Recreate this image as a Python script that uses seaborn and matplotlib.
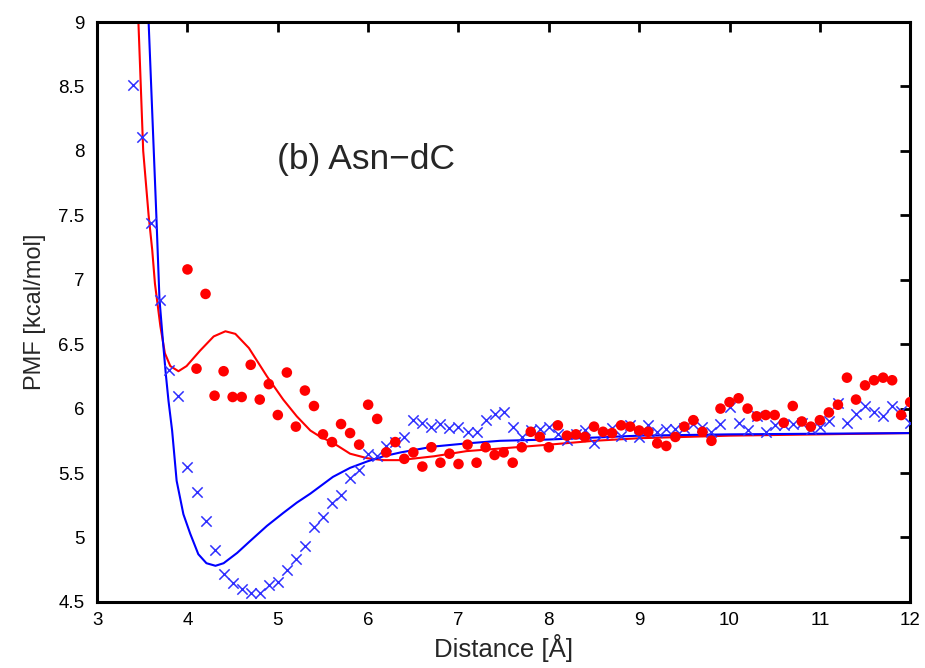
import numpy as np
import pandas as pd
import matplotlib
matplotlib.use("Agg")
import matplotlib.pyplot as plt
import seaborn as sns

# ----------------------------
# DATA
# ----------------------------

# blue crosses
cross_x = [3.4, 3.5, 3.6, 3.7, 3.8, 3.9, 4.0, 4.1, 4.2, 4.3, 4.4, 4.5, 4.6, 4.7, 4.8,
           4.9, 5.0, 5.1, 5.2, 5.3, 5.4, 5.5, 5.6, 5.7, 5.8, 5.9, 6.0, 6.1, 6.2, 6.3,
           6.4, 6.5, 6.6, 6.7, 6.8, 6.9, 7.0, 7.1, 7.2, 7.3, 7.4, 7.5, 7.6, 7.7, 7.8,
           7.9, 8.0, 8.1, 8.2, 8.3, 8.4, 8.5, 8.6, 8.7, 8.8, 8.9, 9.0, 9.1, 9.2, 9.3,
           9.4, 9.5, 9.6, 9.7, 9.8, 9.9, 10.0, 10.1, 10.2, 10.3, 10.4, 10.5, 10.6, 10.7,
           10.8, 10.9, 11.0, 11.1, 11.2, 11.3, 11.4, 11.5, 11.6, 11.7, 11.8, 11.9, 12.0]
cross_y = [8.51, 8.105, 7.44, 6.84, 6.30, 6.10, 5.55, 5.35, 5.13, 4.90, 4.72, 4.65, 4.60, 4.57, 4.57,
           4.63, 4.655, 4.75, 4.83, 4.93, 5.08, 5.16, 5.27, 5.33, 5.46, 5.52, 5.65, 5.63, 5.71, 5.74,
           5.78, 5.91, 5.89, 5.855, 5.88, 5.85, 5.86, 5.82, 5.82, 5.91, 5.96, 5.97, 5.86, 5.78, 5.83,
           5.84, 5.86, 5.80, 5.76, 5.80, 5.83, 5.73, 5.80, 5.85, 5.79, 5.87, 5.78, 5.87, 5.82, 5.84,
           5.84, 5.85, 5.88, 5.86, 5.82, 5.88, 6.01, 5.89, 5.83, 5.94, 5.82, 5.87, 5.87, 5.88,
           5.89, 5.84, 5.86, 5.90, 6.04, 5.89, 5.96, 6.02, 5.97, 5.94, 6.02, 5.98, 5.89]

# red dots
dot_x = [4.0, 4.1, 4.2, 4.3, 4.4, 4.5, 4.6, 4.7, 4.8, 4.9, 5.0, 5.1, 5.2, 5.3, 5.4,
         5.5, 5.6, 5.7, 5.8, 5.9, 6.0, 6.1, 6.2, 6.3, 6.4, 6.5, 6.6, 6.7, 6.8, 6.9,
         7.0, 7.1, 7.2, 7.3, 7.4, 7.5, 7.6, 7.7, 7.8, 7.9, 8.0, 8.1, 8.2, 8.3, 8.4,
         8.5, 8.6, 8.7, 8.8, 8.9, 9.0, 9.1, 9.2, 9.3, 9.4, 9.5, 9.6, 9.7, 9.8, 9.9,
         10.0, 10.1, 10.2, 10.3, 10.4, 10.5, 10.6, 10.7, 10.8, 10.9, 11.0, 11.1, 11.2,
         11.3, 11.4, 11.5, 11.6, 11.7, 11.8, 11.9, 12.0]
dot_y = [7.08, 6.31, 6.89, 6.10, 6.29, 6.09, 6.09, 6.34, 6.07, 6.19, 5.95, 6.28, 5.86, 6.14, 6.02,
         5.80, 5.74, 5.88, 5.81, 5.72, 6.03, 5.92, 5.66, 5.74, 5.61, 5.66, 5.55, 5.70, 5.58, 5.65,
         5.57, 5.72, 5.58, 5.70, 5.64, 5.66, 5.58, 5.70, 5.82, 5.78, 5.70, 5.87, 5.79, 5.80, 5.78,
         5.86, 5.82, 5.81, 5.87, 5.86, 5.83, 5.82, 5.73, 5.71, 5.78, 5.86, 5.91, 5.82, 5.75, 6.00,
         6.05, 6.08, 6.00, 5.94, 5.95, 5.95, 5.89, 6.02, 5.90, 5.86, 5.91, 5.97, 6.03,
         6.24, 6.07, 6.18, 6.22, 6.24, 6.22, 5.95, 6.05]

# red curve
red_x = [3.457, 3.51, 3.57, 3.61, 3.64, 3.70, 3.75, 3.81, 3.90, 3.99, 4.14, 4.29, 4.42,
         4.53, 4.68, 4.88, 5.06, 5.21, 5.36, 5.45, 5.62, 5.80, 5.99, 6.17, 6.35, 6.73,
         7.09, 7.46, 8.0, 8.5, 9.0, 10.0, 11.0, 12.0]
red_y = [9.0, 8.0, 7.5, 7.23, 6.97, 6.64, 6.43, 6.33, 6.29, 6.33, 6.45, 6.56, 6.60,
         6.58, 6.47, 6.25, 6.07, 5.94, 5.83, 5.79, 5.73, 5.65, 5.615, 5.60, 5.60, 5.63,
         5.67, 5.69, 5.72, 5.75, 5.77, 5.79, 5.80, 5.81]

# blue curve
blue_x = [3.57, 3.627, 3.656, 3.69, 3.73, 3.76, 3.79, 3.83, 3.88, 3.955, 4.03, 4.12, 4.21,
          4.31, 4.40, 4.55, 4.69, 4.88, 5.06, 5.21, 5.36, 5.61, 5.80, 5.99, 6.17, 6.36,
          6.72, 7.09, 7.46, 8.0, 9.0, 10.0, 12.0]
blue_y = [9.0, 8.0, 7.49, 6.85, 6.51, 6.27, 6.06, 5.83, 5.44, 5.18, 5.03, 4.87, 4.80,
          4.78, 4.80, 4.88, 4.97, 5.09, 5.19, 5.27, 5.34, 5.47, 5.54, 5.59, 5.63, 5.66,
          5.705, 5.73, 5.75, 5.76, 5.79, 5.80, 5.81]

x_ticks = [3, 4, 5, 6, 7, 8, 9, 10, 11, 12]
y_ticks = [4.5, 5, 5.5, 6, 6.5, 7, 7.5, 8, 8.5, 9]
y_tick_labels = ["4.5", "5", "5.5", "6", "6.5", "7", "7.5", "8", "8.5", "9"]

# ----------------------------
# PLOT
# ----------------------------

sns.set_style("white")
plt.rcParams['font.family'] = ['Liberation Sans', 'DejaVu Sans']

fig = plt.figure(figsize=(9.25, 6.68), dpi=100)
ax = fig.add_axes([0.105, 0.099, 0.879, 0.868])

sns.lineplot(x=red_x, y=red_y, ax=ax, color="#ff0000", linewidth=1.5,
             estimator=None, sort=False, zorder=2)
sns.lineplot(x=blue_x, y=blue_y, ax=ax, color="#0000ff", linewidth=1.5,
             estimator=None, sort=False, zorder=2)
sns.scatterplot(x=cross_x, y=cross_y, ax=ax, marker="x", color="#3030ff",
                s=55, linewidth=1.1, zorder=3)
sns.scatterplot(x=dot_x, y=dot_y, ax=ax, marker="o", color="#ff0000",
                s=58, edgecolor="none", zorder=4)

ax.text(4.99, 7.93, "(b) Asn\u2212dC", fontsize=25.5, va="center", ha="left")

ax.set_xlim(3, 12)
ax.set_ylim(4.5, 9)
ax.set_xticks(x_ticks)
ax.set_yticks(y_ticks)
ax.set_yticklabels(y_tick_labels)
ax.set_xlabel("Distance [Å]", fontsize=18.5, labelpad=4)
ax.set_ylabel("PMF [kcal/mol]", fontsize=17, labelpad=9)

for side in ["left", "right", "top", "bottom"]:
    ax.spines[side].set_color("black")
    ax.spines[side].set_linewidth(2.2)
ax.tick_params(direction="in", length=7, width=2, top=True, right=True,
               labelsize=13.5, colors="black", pad=9)
ax.tick_params(axis="x", pad=7)

fig.savefig("out.png", dpi=100)
